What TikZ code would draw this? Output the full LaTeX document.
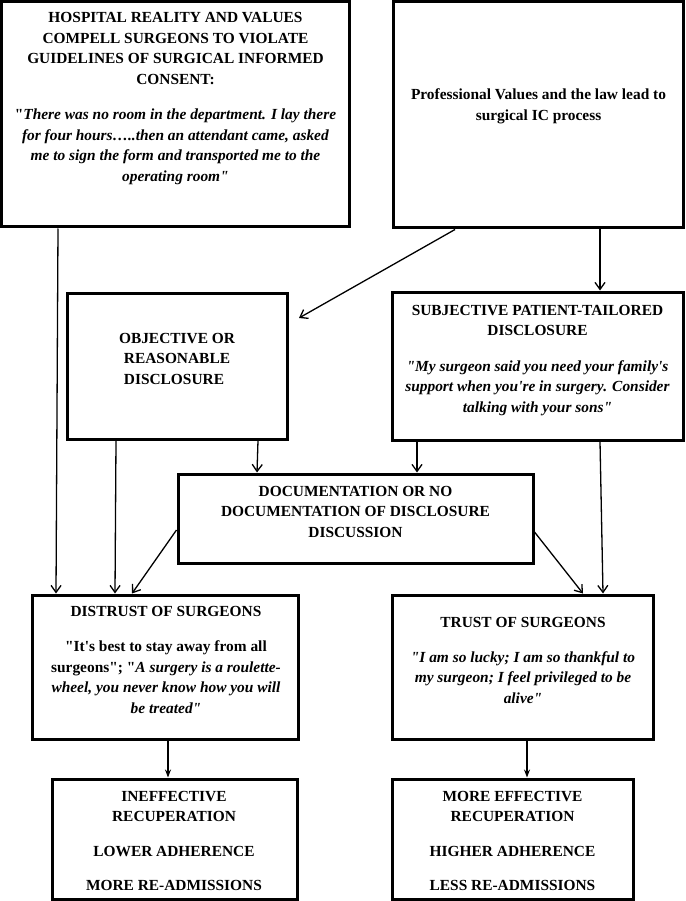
\documentclass[tikz,border=0pt]{standalone}
\usepackage{fontspec}
\setmainfont{Liberation Serif}[Ligatures=TeXOff]
\usetikzlibrary{arrows.meta,fit}
\begin{document}
\begin{tikzpicture}[x=1pt,y=-1pt,
  box/.style={draw, line width=3pt, inner sep=0pt},
  txt/.style={inner sep=0pt, anchor=base, font=\fontsize{15.4}{20.5}\selectfont\bfseries},
  arr/.style={-{Straight Barb[length=7pt,width=10pt]}, line width=1.3pt},
  arrf/.style={-{Stealth[length=8pt,width=6pt]}, line width=1.5pt}]
\fill[white] (0,0) rectangle (685,901);
\useasboundingbox (0,0) rectangle (685,901);

% boxes
\node[box, fit={(1.5,1.5) (349,227)}] (A) {};
\node[box, fit={(393,1.5) (683.5,228)}] (B) {};
\node[box, fit={(67,293) (287,439)}] (Obj) {};
\node[box, fit={(392,292) (683,440)}] (Subj) {};
\node[box, fit={(178,474) (533,563)}] (Doc) {};
\node[box, fit={(32,595) (298,739)}] (Dis) {};
\node[box, fit={(392,595) (653,739)}] (Tru) {};
\node[box, fit={(52,779) (297,899)}] (In) {};
\node[box, fit={(392,779) (633,899)}] (More) {};

% texts
\node[txt] (tA) at (175.5,23) {\parbox[t]{340pt}{\centering
HOSPITAL REALITY AND VALUES\\
COMPELL SURGEONS TO VIOLATE\\
GUIDELINES OF SURGICAL INFORMED\\
CONSENT:\\[15pt]
"\textit{There was no room in the department. I lay there}\\
\textit{for four hours…..then an attendant came, asked}\\
\textit{me to sign the form and transported me to the}\\
\textit{operating room"}}};

\node[txt] (tB) at (538.5,100) {\parbox[t]{285pt}{\centering
Professional Values and the law lead to\\
surgical IC process}};

\node[txt] (tObj) at (177,343) {\parbox[t]{210pt}{\centering
OBJECTIVE OR\\
REASONABLE\\
DISCLOSURE\hspace*{6pt}}};

\node[txt] (tSubj) at (537.5,315) {\parbox[t]{285pt}{\centering
SUBJECTIVE PATIENT-TAILORED\\
DISCLOSURE\\[15pt]
\textit{"My surgeon said you need your family's}\\
\textit{support when you're in surgery. Consider}\\
\textit{talking with your sons"}}};

\node[txt] (tDoc) at (355.5,496) {\parbox[t]{345pt}{\centering
DOCUMENTATION OR NO\\
DOCUMENTATION OF DISCLOSURE\\
DISCUSSION}};

\node[txt] (tDis) at (166,616) {\parbox[t]{260pt}{\centering
DISTRUST OF SURGEONS\\[15pt]
"It's best to stay away from all\\
surgeons"; "\textit{A surgery is a roulette-}\\
\textit{wheel, you never know how you will}\\
\textit{be treated"}}};

\node[txt] (tTru) at (523,627) {\parbox[t]{255pt}{\centering
TRUST OF SURGEONS\\[14.5pt]
\textit{"I am so lucky; I am so thankful to}\\
\textit{my surgeon; I feel privileged to be}\\
\textit{alive"}}};

\node[txt] (tIn) at (174,801) {\parbox[t]{240pt}{\centering
INEFFECTIVE\\
RECUPERATION\\[14.5pt]
LOWER ADHERENCE\\[13.5pt]
MORE RE-ADMISSIONS}};

\node[txt] (tMore) at (512.5,801) {\parbox[t]{235pt}{\centering
MORE EFFECTIVE\\
RECUPERATION\\[14.5pt]
HIGHER ADHERENCE\\[13.5pt]
LESS RE-ADMISSIONS}};

% connectors
\coordinate (objtip) at (299,318);
\draw[arr] ([xshift=58pt]A.south west) -- ([xshift=25.5pt]Dis.north west);
\draw[arr] ([xshift=63.5pt]B.south west) -- (objtip);
\draw[arr] ([xshift=208.5pt]B.south west) -- ([xshift=209.5pt]Subj.north west);
\draw[arr] ([xshift=50.5pt]Obj.south west) -- ([xshift=84.5pt]Dis.north west);
\draw[arr] ([xshift=192.5pt]Obj.south west) -- ([xshift=80.5pt]Doc.north west);
\draw[arr] ([xshift=26.5pt]Subj.south west) -- ([xshift=240.5pt]Doc.north west);
\draw[arr] ([xshift=209.5pt]Subj.south west) -- ([xshift=212.5pt]Tru.north west);
\draw[arr] ([yshift=-11.5pt]Doc.west) -- ([xshift=101.5pt]Dis.north west);
\draw[arr] ([yshift=-13.5pt]Doc.east) -- ([xshift=192.5pt]Tru.north west);
\draw[arrf] ([xshift=137.5pt]Dis.south west) -- ([xshift=117.5pt]In.north west);
\draw[arrf] ([xshift=136.5pt]Tru.south west) -- ([xshift=136.5pt]More.north west);
\end{tikzpicture}
\end{document}
